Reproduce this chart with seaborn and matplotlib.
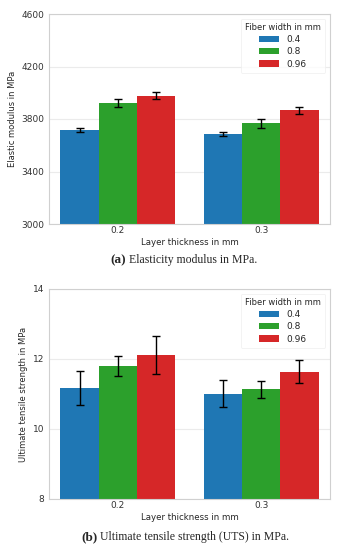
import pandas as pd
import matplotlib.pyplot as plt
import seaborn as sns

# data
layer_thickness = ['0.2', '0.3']
fiber_width = ['0.4', '0.8', '0.96']
# rows = fiber width, cols = layer thickness
emod_mean = [[3717, 3686], [3920, 3767], [3978, 3867]]
emod_err = [[18, 17], [32, 33], [28, 27]]
uts_mean = [[11.17, 11.01], [11.80, 11.13], [12.11, 11.64]]
uts_err = [[0.49, 0.38], [0.29, 0.23], [0.54, 0.33]]

colors = ['#1f77b4', '#2ca02c', '#d62728']

sns.set_style('whitegrid', {'grid.color': '#ebebeb', 'axes.edgecolor': '#d0d0d0'})
plt.rcParams['font.family'] = ['DejaVu Sans']


def long_table(means):
    rows = []
    for fw, vals in zip(fiber_width, means):
        for lt, v in zip(layer_thickness, vals):
            rows.append({'layer': lt, 'fiber': fw, 'value': v})
    return pd.DataFrame(rows)


def draw(ax, means, errs, ylim, yticks, ylabel):
    df = long_table(means)
    sns.barplot(data=df, x='layer', y='value', hue='fiber', palette=colors,
                errorbar=None, saturation=1, width=0.8, linewidth=0, ax=ax)
    for cont, e in zip(ax.containers, errs):
        xs = [p.get_x() + p.get_width() / 2 for p in cont]
        ys = [p.get_height() for p in cont]
        ax.errorbar(xs, ys, yerr=e, fmt='none', ecolor='black',
                    elinewidth=1, capsize=3, capthick=1)
    ax.set_xlim(-0.48, 1.48)
    ax.set_ylim(*ylim)
    ax.set_yticks(yticks)
    ax.set_xlabel('Layer thickness in mm', fontsize=6.2, labelpad=2)
    ax.set_ylabel(ylabel, fontsize=6, labelpad=3)
    ax.tick_params(axis='both', labelsize=6.5, length=2, width=0.6,
                   colors='#333333', pad=1.5)
    ax.tick_params(axis='x', length=0)
    for s in ax.spines.values():
        s.set_linewidth(0.8)
    leg = ax.legend(title='Fiber width in mm', loc='upper right',
                    fontsize=6.5, title_fontsize=6, frameon=True,
                    handlelength=2.2, handleheight=0.7, borderpad=0.5,
                    labelspacing=0.35)
    leg.get_frame().set_edgecolor('#eeeeee')
    leg.get_frame().set_linewidth(0.6)


fig = plt.figure(figsize=(3.43, 5.5), dpi=100)
ax1 = fig.add_axes([49 / 343, 1 - 224 / 550, 281 / 343, 210 / 550])
ax2 = fig.add_axes([49 / 343, 1 - 499 / 550, 281 / 343, 210 / 550])

draw(ax1, emod_mean, emod_err, (3000, 4600), [3000, 3400, 3800, 4200, 4600],
     'Elastic modulus in MPa')
draw(ax2, uts_mean, uts_err, (8, 14), [8, 10, 12, 14],
     'Ultimate tensile strength in MPa')


def caption(x, y, tag, text):
    t = fig.text(x, y, tag, fontsize=9.5, fontweight='bold',
                 family='Liberation Serif', va='bottom', ha='left')
    ax1.annotate(text, xy=(1, 0), xycoords=t, va='bottom', ha='left',
                 fontsize=8.5, family='Liberation Serif',
                 annotation_clip=False)


caption(110 / 343, 1 - 266 / 550, '(a)', ' Elasticity modulus in MPa.')
caption(81 / 343, 1 - 543 / 550, '(b)', ' Ultimate tensile strength (UTS) in MPa.')

fig.savefig('out.png', dpi=100)
